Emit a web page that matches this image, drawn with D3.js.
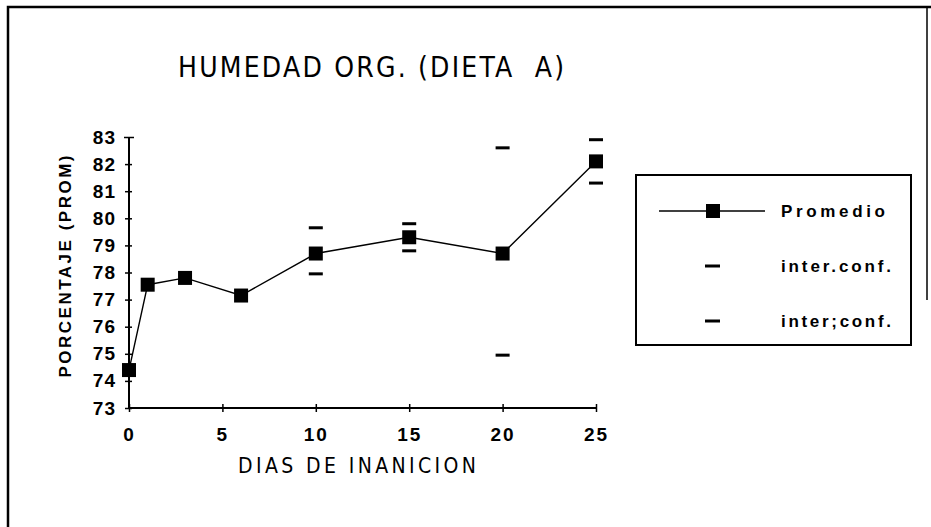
<!DOCTYPE html>
<html>
<head>
<meta charset="utf-8">
<script src="https://cdn.jsdelivr.net/npm/d3@7"></script>
<style>
  body { margin: 0; background: #fff; }
  svg { display: block; }
  text { fill: #000; }
</style>
</head>
<body>
<svg width="931" height="527"></svg>
<script>
// dias de inanicion y valores
const days = [0, 1, 3, 6, 10, 15, 20, 25];
const promedio = [74.4, 77.55, 77.8, 77.15, 78.7, 79.3, 78.7, 82.1];
// intervalo de confianza (solo donde aparece)
const confDays = [10, 15, 20, 25];
const confUpper = [79.65, 79.8, 82.6, 82.9];
const confLower = [77.95, 78.8, 74.95, 81.3];
const xTicks = [0, 5, 10, 15, 20, 25];
const yTicks = [73, 74, 75, 76, 77, 78, 79, 80, 81, 82, 83];
const legendLabels = ["Promedio", "inter.conf.", "inter;conf."];

const svg = d3.select("svg");
const width = +svg.attr("width");
const height = +svg.attr("height");
const narrow = "'Liberation Sans Narrow', 'DejaVu Sans Condensed', sans-serif";
const bold = "'Liberation Sans', Arial, sans-serif";

const x = d3.scaleLinear().domain([0, 25]).range([129, 596]);
const y = d3.scaleLinear().domain([73, 83]).range([408, 137]);

// marco exterior
svg.append("path")
    .attr("d", `M8,${height} V7 H${width}`)
    .attr("fill", "none")
    .attr("stroke", "#000")
    .attr("stroke-width", 2.5);
svg.append("line")
    .attr("x1", 927).attr("x2", 927).attr("y1", 7).attr("y2", 300)
    .attr("stroke", "#000").attr("stroke-width", 1.5);

// titulo
svg.append("text")
    .attr("x", 178)
    .attr("y", 77)
    .attr("textLength", 386)
    .attr("lengthAdjust", "spacing")
    .style("white-space", "pre")
    .style("font", `28px ${narrow}`)
    .text("HUMEDAD ORG. (DIETA  A)");

// eje y
const yAxis = g => g
    .attr("transform", `translate(${x(0)},0)`)
    .call(d3.axisLeft(y).tickValues(yTicks).tickSize(4).tickPadding(9))
    .call(g => g.select(".domain").attr("stroke-width", 2).attr("d", `M0,${y(73)}V${y(83)}`))
    .call(g => g.selectAll(".tick line").attr("x1", 3).attr("stroke-width", 1.5))
    .call(g => g.selectAll(".tick").filter(d => d === 83).select("line").attr("x1", 5).attr("x2", -5))
    .call(g => g.selectAll(".tick text")
        .style("font", `bold 19px ${bold}`)
        .attr("letter-spacing", 1));

// eje x
const xAxis = g => g
    .attr("transform", `translate(0,${y(73)})`)
    .call(d3.axisBottom(x).tickValues(xTicks).tickSize(4).tickPadding(16))
    .call(g => g.select(".domain").attr("stroke-width", 2).attr("d", `M${x(0)},0H${x(25)}`))
    .call(g => g.selectAll(".tick line").attr("y1", -4).attr("stroke-width", 1.5))
    .call(g => g.selectAll(".tick text")
        .style("font", `bold 19px ${bold}`)
        .attr("letter-spacing", 2));

svg.append("g").call(xAxis);
svg.append("g").call(yAxis);

// titulos de ejes
svg.append("text")
    .attr("transform", `translate(71,${(155 + 378) / 2}) rotate(-90)`)
    .attr("text-anchor", "middle")
    .attr("textLength", 222)
    .attr("lengthAdjust", "spacing")
    .style("font", `bold 17px ${bold}`)
    .text("PORCENTAJE (PROM)");

svg.append("text")
    .attr("x", 238)
    .attr("y", 473)
    .attr("textLength", 238)
    .attr("lengthAdjust", "spacing")
    .style("font", `21px ${narrow}`)
    .text("DIAS DE INANICION");

// linea del promedio
const pts = days.map((d, i) => ({day: d, value: promedio[i]}));
const line = d3.line().x(d => x(d.day)).y(d => y(d.value));

svg.append("path")
    .datum(pts)
    .attr("fill", "none")
    .attr("stroke", "#000")
    .attr("stroke-width", 1.4)
    .attr("d", line);

const sq = 14;
svg.append("g")
    .selectAll("rect")
    .data(pts)
    .join("rect")
    .attr("x", d => x(d.day) - sq / 2)
    .attr("y", d => y(d.value) - sq / 2)
    .attr("width", sq)
    .attr("height", sq)
    .attr("fill", "#000");

// marcas del intervalo de confianza
const conf = confDays.flatMap((d, i) => [
    {day: d, value: confUpper[i]},
    {day: d, value: confLower[i]}
]);
svg.append("g")
    .selectAll("rect")
    .data(conf)
    .join("rect")
    .attr("x", d => x(d.day) - 7)
    .attr("y", d => y(d.value) - 1.5)
    .attr("width", 14)
    .attr("height", 3)
    .attr("fill", "#000");

// leyenda
const legend = svg.append("g");
legend.append("rect")
    .attr("x", 636).attr("y", 175)
    .attr("width", 275).attr("height", 170)
    .attr("fill", "none")
    .attr("stroke", "#000")
    .attr("stroke-width", 2);

const rowY = [211, 266, 321];
legend.append("line")
    .attr("x1", 659).attr("x2", 765)
    .attr("y1", rowY[0]).attr("y2", rowY[0])
    .attr("stroke", "#000").attr("stroke-width", 1.4);
legend.append("rect")
    .attr("x", 713 - sq / 2).attr("y", rowY[0] - sq / 2)
    .attr("width", sq).attr("height", sq)
    .attr("fill", "#000");
legend.selectAll(".dash")
    .data(rowY.slice(1))
    .join("rect")
    .attr("class", "dash")
    .attr("x", 705).attr("y", d => d - 1.5)
    .attr("width", 15).attr("height", 3)
    .attr("fill", "#000");

legend.selectAll(".lbl")
    .data(legendLabels)
    .join("text")
    .attr("class", "lbl")
    .attr("x", 781)
    .attr("y", (d, i) => rowY[i])
    .attr("dy", "0.35em")
    .attr("textLength", (d, i) => i === 0 ? 104 : 110)
    .attr("lengthAdjust", "spacing")
    .style("font", `bold 17px ${bold}`)
    .text(d => d);
</script>
</body>
</html>
